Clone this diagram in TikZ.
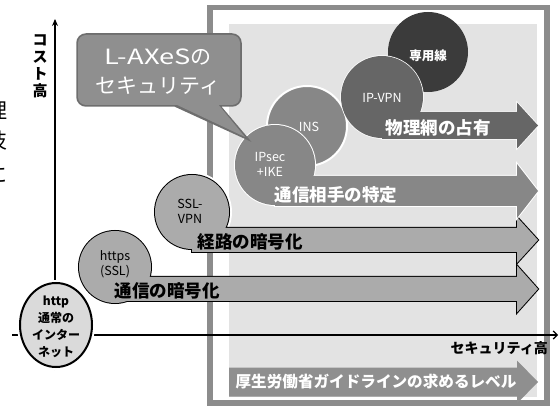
\documentclass[tikz,border=0pt]{standalone}
\usepackage{fontspec}
\setmainfont{Noto Sans CJK JP}
\usetikzlibrary{arrows.meta}

\definecolor{framegray}{HTML}{8C8C8C}
\definecolor{bglight}{HTML}{E3E3E3}
\definecolor{httpfill}{HTML}{DADADA}
\definecolor{lightfill}{HTML}{ABABAB}
\definecolor{midfill}{HTML}{878787}
\definecolor{darkfill}{HTML}{666666}
\definecolor{deepfill}{HTML}{3B3B3B}
\definecolor{callfill}{HTML}{8F8F8F}
\definecolor{callline}{HTML}{6E6E6E}

% block arrow: left x, centre y, half body, half head
\newcommand\blockarrow[4]{(#1,#2-#3) -- (517,#2-#3) -- (517,#2-#4) -- (538,#2) -- (517,#2+#4) -- (517,#2+#3) -- (#1,#2+#3) -- cycle}

\begin{document}
\begin{tikzpicture}[x=1pt,y=-1pt,
    lbl/.style={font=\bfseries\fontsize{17.5}{20}\selectfont, inner sep=0pt},
    bubtext/.style={align=center, inner sep=0pt, font=\fontsize{12.5}{15}\selectfont},
    axisline/.style={line width=1.2pt},
    halo/.style={white, line width=6pt},
    rim/.style={line width=2pt}
  ]
  \useasboundingbox (0,0) rectangle (560,406);

  % frame and background
  \draw[framegray, line width=5.5pt] (210,7.5) rectangle (547,403);
  \fill[bglight] (229,24) rectangle (537,397);

  % axes
  \coordinate (vbot) at (55,370);
  \coordinate (vtop) at (55,19);
  \coordinate (hleft) at (12,335);
  \coordinate (hright) at (558,335);
  \draw[axisline, -{Stealth[length=7pt,width=6pt]}] (vbot) -- (vtop);
  \draw[axisline, -{Straight Barb[length=4pt,width=8pt]}] (hleft) -- (hright);
  \node[font=\bfseries\fontsize{15}{17}\selectfont, align=center, inner sep=0pt] (cost) at (40,66) {コ\\ス\\ト\\高};
  \node[font=\bfseries\fontsize{14}{16}\selectfont, inner sep=0pt, anchor=east] (secu) at (548,348) {セキュリティ高};

  % cut-off text at the left edge
  \node[font=\fontsize{21}{21}\selectfont, inner sep=0pt] (frag1) at (-3,111) {理};
  \node[font=\fontsize{21}{21}\selectfont, inner sep=0pt] (frag2) at (-3,141) {技};
  \node[font=\fontsize{21}{21}\selectfont, inner sep=0pt] (frag3) at (-3,175) {に};

  % http
  \coordinate (http) at (56,325);
  \draw[halo] (http) circle[x radius=36pt, y radius=42pt];
  \draw[rim, fill=httpfill] (http) circle[x radius=36pt, y radius=42pt];
  \node[bubtext, font=\bfseries\fontsize{12}{17}\selectfont] (httptxt) at (56,327) {http\\通常の\\インター\\ネット};

  % https + 通信の暗号化
  \coordinate (https) at (115,267);
  \draw[halo] (https) circle[radius=36pt];
  \draw[rim] (https) circle[radius=36pt] \blockarrow{115}{289}{12}{23.5};
  \fill[lightfill] (https) circle[radius=36pt];
  \fill[lightfill] \blockarrow{115}{289}{12}{23.5};
  \node[bubtext] (httpstxt) at (115,264) {https\\(SSL)};
  \node[lbl] (enc) at (167,291) {通信の暗号化};

  % SSL-VPN + 経路の暗号化
  \coordinate (sslvpn) at (192,212);
  \draw[halo] (sslvpn) circle[radius=37pt];
  \draw[rim] (sslvpn) circle[radius=37pt] \blockarrow{192}{240}{12}{23};
  \fill[lightfill] (sslvpn) circle[radius=37pt];
  \fill[lightfill] \blockarrow{192}{240}{12}{23};
  \node[bubtext] (sslvpntxt) at (190,211) {SSL-\\VPN};
  \node[lbl] (route) at (250,242) {経路の暗号化};

  % INS, IPsec + 通信相手の特定
  \coordinate (ins) at (307,126);
  \coordinate (ipsec) at (275,165);
  \draw[rim, white, fill=midfill] (ins) circle[radius=40pt];
  \node[bubtext, white] (instxt) at (309,127) {INS};
  \draw[rim, white] (ipsec) circle[radius=40pt] \blockarrow{275}{191}{15}{27};
  \fill[midfill] (ipsec) circle[radius=40pt];
  \fill[midfill] \blockarrow{275}{191}{15}{27};
  \node[bubtext, white] (ipsectxt) at (270,164) {IPsec\\+IKE};
  \node[lbl, white] (peer) at (336,195) {通信相手の特定};

  % 専用線, IP-VPN + 物理網の占有
  \coordinate (leased) at (428,52);
  \coordinate (ipvpn) at (382,97);
  \fill[deepfill] (leased) circle[radius=40pt];
  \node[bubtext, white, font=\bfseries\fontsize{12.5}{15}\selectfont] (leasedtxt) at (428,56) {専用線};
  \draw[line width=1.5pt, white] (ipvpn) circle[radius=41pt] \blockarrow{382}{125.5}{13.5}{23};
  \fill[darkfill] (ipvpn) circle[radius=41pt];
  \fill[darkfill] \blockarrow{382}{125.5}{13.5}{23};
  \node[bubtext, white] (ipvpntxt) at (382,98) {IP-VPN};
  \node[lbl, white] (phys) at (438,128) {物理網の占有};

  % guideline level
  \fill[callfill] \blockarrow{229}{382}{14.5}{21.5};
  \node[lbl, white, font=\bfseries\fontsize{15.6}{18}\selectfont] (guide) at (376,382) {厚生労働省ガイドラインの求めるレベル};

  % callout
  \draw[callline, line width=3.5pt, rounded corners=8pt] (78,35) rectangle (240,105) [sharp corners] (173,104) -- (245,137) -- (217,104) -- cycle;
  \fill[callfill, rounded corners=8pt] (78,35) rectangle (240,105);
  \fill[callfill] (173,103) -- (245,137) -- (217,103) -- cycle;
  \node[white, align=center, inner sep=0pt, font=\fontsize{21}{29}\selectfont] (laxes) at (158,72) {\scalebox{1.3}[1]{L-AXeS}の\\セキュリティ};
\end{tikzpicture}
\end{document}
